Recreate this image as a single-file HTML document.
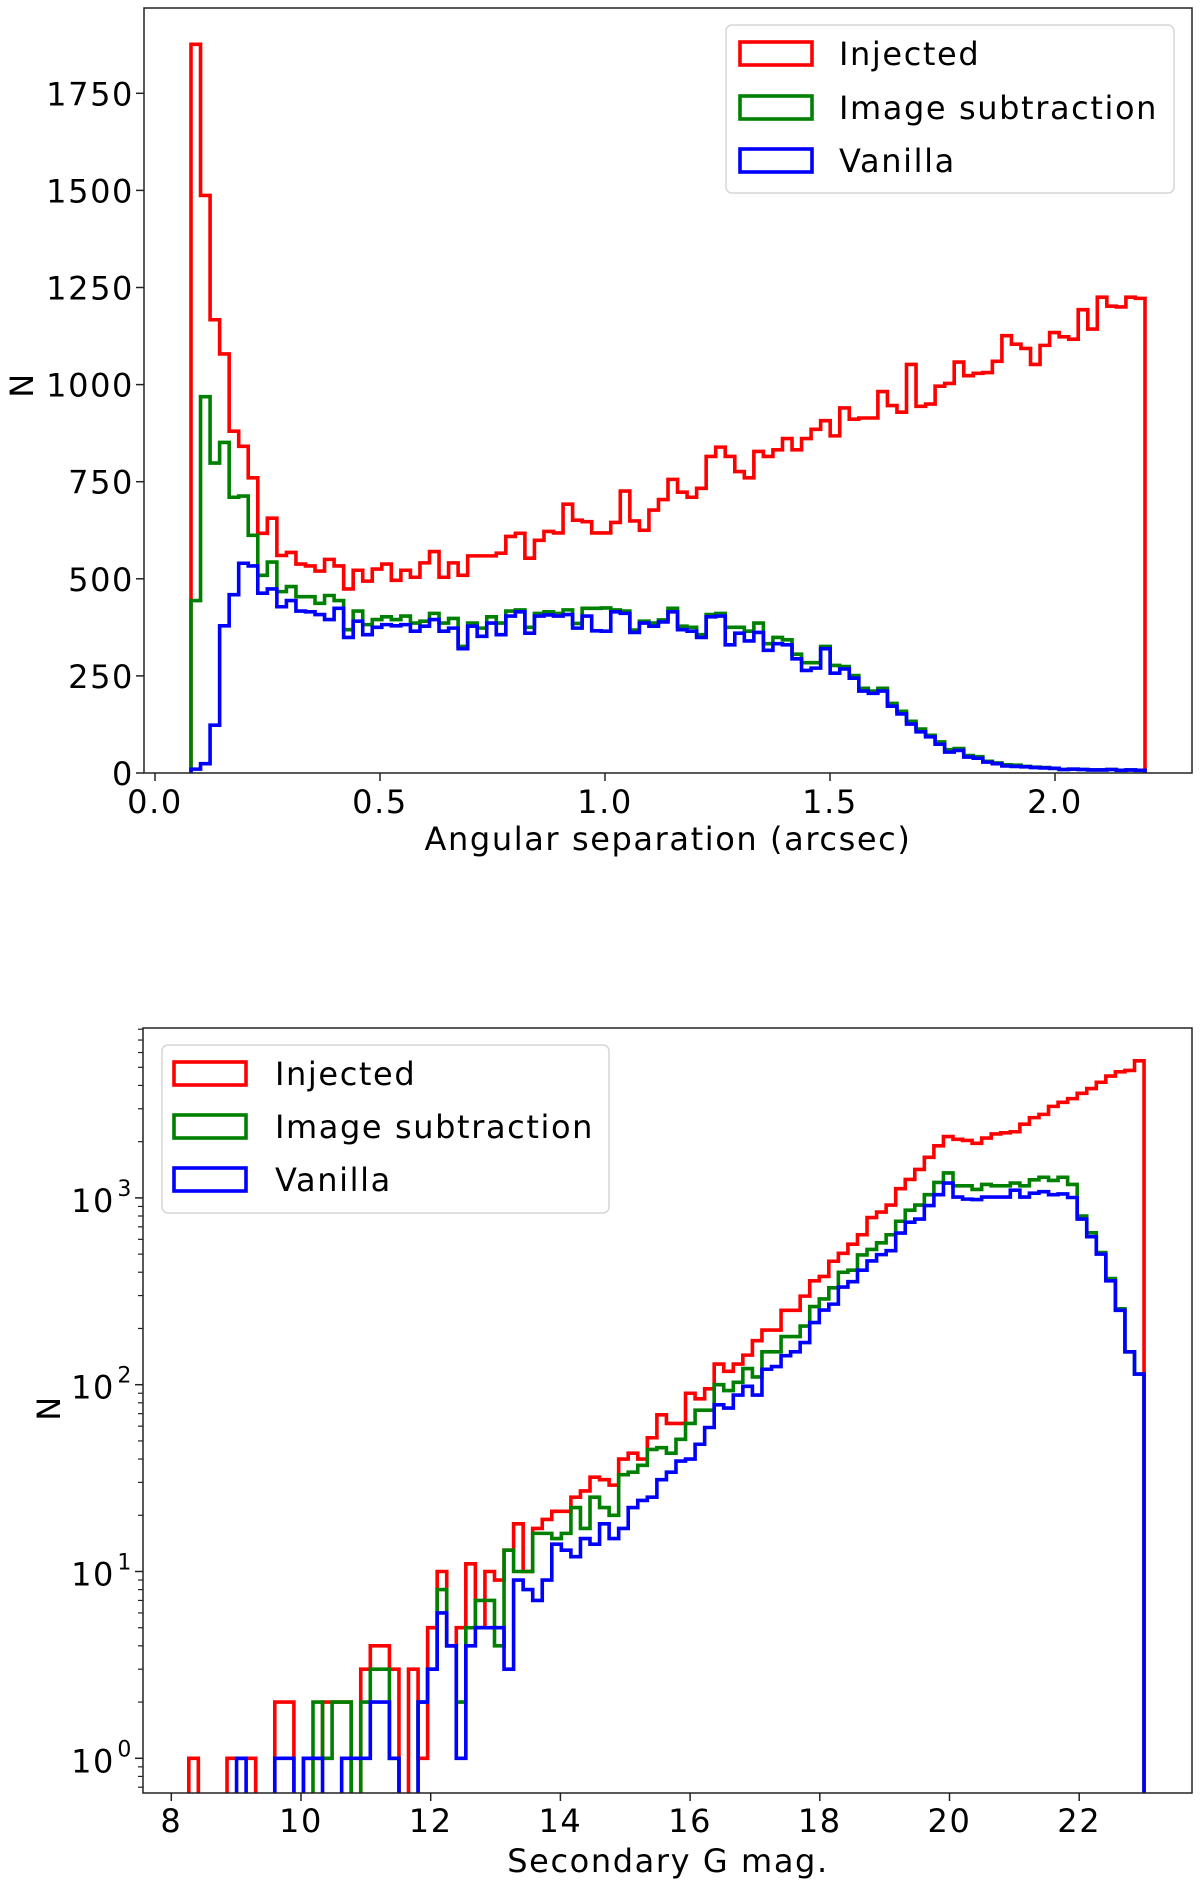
<!DOCTYPE html>
<html><head><meta charset="utf-8">
<style>
html,body{margin:0;padding:0;background:#fff;}
svg{display:block;font-family:"DejaVu Sans","Liberation Sans",sans-serif;}
svg text{letter-spacing:1.6px;}
</style></head>
<body>
<svg id="fig" width="1200" height="1885" viewBox="0 0 1200 1885" xmlns="http://www.w3.org/2000/svg">
<defs>
<clipPath id="clipTop"><rect x="144" y="8" width="1048" height="765"/></clipPath>
<clipPath id="clipBot"><rect x="143" y="1028" width="1049" height="765"/></clipPath>
</defs>
<g id="topChart"></g>
<g id="botChart"></g>
</svg>
<script>
// ---------- Top chart data (angular separation) ----------
const sepRange = [0.08, 2.2];
const sepInjected = [1876,1487,1167,1079,880,841,760,617,656,560,568,538,533,520,550,533,474,522,494,525,538,496,522,504,541,570,504,541,509,559,559,559,566,609,617,553,599,622,618,692,651,647,618,
618,645,726,649,625,677,704,756,723,710,733,815,839,815,776,760,828,815,832,861,832,861,885,907,868,940,911,914,914,982,946,929,1052,944,950,996,1003,1058,1023,1029,1031,1060,1126,1104,1093,1052,1101,1134,1123,1117,1193,1143,1225,1202,1200,1225,1222];
const sepImageSub = [444,969,798,851,710,713,612,509,543,467,480,454,454,437,457,444,369,417,382,395,402,395,404,386,391,411,386,398,326,386,373,402,386,417,420,375,411,415,411,420,385,424,424,
425,420,417,368,391,386,394,424,378,375,356,408,411,375,375,365,386,333,349,343,306,284,284,326,277,274,251,218,211,218,179,159,133,113,97,80,60,63,45,42,30,26,21,20,17,15,14,12,9,10,9,8,8,9,7,8,7];
const sepVanilla = [10,24,123,379,459,540,533,463,474,428,444,417,415,408,395,424,349,391,356,375,382,379,382,365,378,395,365,373,320,378,352,386,356,404,415,360,404,407,404,408,373,404,366,
365,415,411,362,386,378,389,415,369,365,349,402,404,330,360,340,362,316,333,330,294,264,270,320,257,268,244,211,205,211,172,152,126,106,93,74,54,58,41,38,28,24,18,17,16,14,13,12,9,10,9,8,8,9,7,8,7];
const sepYTicks = [0,250,500,750,1000,1250,1500,1750];
const sepXTicks = ["0.0","0.5","1.0","1.5","2.0"];

// ---------- Bottom chart data (secondary G mag) ----------
const magRange = [8.27, 23.0];
const magInjected = [1,0,0,0,1,1,1,0,0,2,2,0,1,1,2,2,2,0,3,4,4,3,0,3,1,5,10,4,5,11,5,10,9,13,18,10,17,19,21,21,25,27,32,31,29,40,43,40,52,
69,62,62,90,84,95,129,118,129,144,172,196,196,250,250,298,360,380,458,505,565,635,785,840,915,1120,1255,1420,1650,1900,2130,2060,2030,1960,2090,2200,2230,2260,2480,2690,2800,3090,3250,3400,3630,3850,4160,4490,4730,4810,5420];
const magImageSub = [0,0,0,0,0,0,0,0,0,0,0,0,0,2,1,2,2,0,2,3,3,1,0,0,2,3,8,4,2,5,7,7,4,13,10,10,16,16,15,16,22,17,25,22,20,33,34,37,45,
46,43,51,62,73,73,100,93,103,122,110,150,150,181,181,206,262,288,330,400,410,495,530,575,635,750,860,915,1040,1210,1360,1160,1160,1110,1180,1160,1160,1200,1160,1250,1290,1240,1290,1180,800,650,510,370,255,150,114];
const magVanilla = [0,0,0,0,0,1,0,0,0,1,1,0,1,1,0,0,1,1,1,2,2,1,0,0,2,3,6,4,1,4,5,5,5,3,9,8,7,9,14,13,12,15,14,18,15,17,22,24,25,
31,34,39,40,48,59,78,75,88,98,88,121,125,143,150,168,215,251,270,333,356,410,460,497,522,648,741,770,910,1040,1200,1010,985,980,1010,1010,1010,1100,1010,1060,1080,1040,1050,1005,770,620,500,360,250,150,114];
const magXTicks = [8,10,12,14,16,18,20,22];
const magYDecades = [0,1,2,3];

const legendLabels = ["Injected","Image subtraction","Vanilla"];
const seriesColors = ["#ff0000","#008000","#0000ff"];

const NS = "http://www.w3.org/2000/svg";
function mk(tag, attrs, parent){
  const e = document.createElementNS(NS, tag);
  for (const k in attrs) e.setAttribute(k, attrs[k]);
  parent.appendChild(e);
  return e;
}

const TA = {l:144, r:1192, t:8, b:773};
function sx(v){ return 155 + 450*v; }
function sy(v){ return 773 - v*(97.1/250); }
const BA = {l:143, r:1192, t:1028, b:1793};
function mx(v){ return 171.3 + 64.85*(v-8); }
function my(v){ return v<=0 ? 1900 : 1758.3 - 186.8*Math.log10(v); }

function stepPath(vals, range, xf, yf, baseY){
  const n = vals.length, w = (range[1]-range[0])/n;
  let d = "M" + xf(range[0]).toFixed(2) + "," + baseY;
  for (let i=0;i<n;i++){
    const y = yf(vals[i]).toFixed(2);
    d += " L" + xf(range[0]+i*w).toFixed(2) + "," + y + " L" + xf(range[0]+(i+1)*w).toFixed(2) + "," + y;
  }
  d += " L" + xf(range[1]).toFixed(2) + "," + baseY;
  return d;
}

function drawLegend(parent, bx, by, bw, bh, hx, tx, rowY){
  const g = mk("g", {}, parent);
  
  
  mk("rect", {x:bx, y:by, width:bw, height:bh, rx:6, fill:"#fff", "fill-opacity":0.85, stroke:"#d6d6d6", "stroke-width":1.5}, g);
  for (let i=0;i<3;i++){
    const e = mk("g", {}, g);
    
    
    mk("rect", {x:hx, y:rowY[i]-11, width:72, height:23, fill:"none", stroke:seriesColors[i], "stroke-width":3.6}, e);
    const t = mk("text", {x:tx, y:rowY[i]+12, "font-size":32, fill:"#000"}, e);
    t.textContent = legendLabels[i];
  }
}

// ================= TOP =================
const topG = document.getElementById("topChart");
const topSeries = [sepInjected, sepImageSub, sepVanilla];
const gT = mk("g", {"clip-path":"url(#clipTop)"}, topG);
for (let s=0;s<3;s++){
  const p = mk("path", {d: stepPath(topSeries[s], sepRange, sx, sy, sy(0)), fill:"none", stroke:seriesColors[s], "stroke-width":3.6}, gT);
  
  
}
const frT = mk("rect", {x:TA.l, y:TA.t, width:TA.r-TA.l, height:TA.b-TA.t, fill:"none", stroke:"#222", "stroke-width":1.5}, topG);


sepYTicks.forEach(v=>{
  const y = sy(v);
  mk("line", {x1:TA.l-8, x2:TA.l, y1:y, y2:y, stroke:"#222", "stroke-width":1.5}, topG);
  const t = mk("text", {x:TA.l-10, y:y+12, "text-anchor":"end", "font-size":32, fill:"#000"}, topG);
  t.textContent = v;
  
  
});
sepXTicks.forEach(lbl=>{
  const x = sx(parseFloat(lbl));
  mk("line", {x1:x, x2:x, y1:TA.b, y2:TA.b+8, stroke:"#222", "stroke-width":1.5}, topG);
  const t = mk("text", {x:x, y:TA.b+40, "text-anchor":"middle", "font-size":32, fill:"#000"}, topG);
  t.textContent = lbl;
  
  
});
let xl = mk("text", {x:668, y:850, "text-anchor":"middle", "font-size":32, fill:"#000"}, topG);
xl.textContent = "Angular separation (arcsec)";


let yl = mk("text", {x:33, y:385, "text-anchor":"middle", "font-size":32, fill:"#000", transform:"rotate(-90 33 385)"}, topG);
yl.textContent = "N";


drawLegend(topG, 726, 25, 448, 168, 740, 839, [53,107,160]);

// ================= BOTTOM =================
const botG = document.getElementById("botChart");
const botSeries = [magInjected, magImageSub, magVanilla];
const gB = mk("g", {"clip-path":"url(#clipBot)"}, botG);
for (let s=0;s<3;s++){
  const p = mk("path", {d: stepPath(botSeries[s], magRange, mx, my, 1900), fill:"none", stroke:seriesColors[s], "stroke-width":3.6}, gB);
  
  
}
const frB = mk("rect", {x:BA.l, y:BA.t, width:BA.r-BA.l, height:BA.b-BA.t, fill:"none", stroke:"#222", "stroke-width":1.5}, botG);


for (let d=-1; d<=3; d++){
  for (let k=2;k<=9;k++){
    const y = my(k*Math.pow(10,d));
    if (y>BA.t && y<BA.b) mk("line", {x1:BA.l-5, x2:BA.l, y1:y, y2:y, stroke:"#222", "stroke-width":1.2}, botG);
  }
}
magYDecades.forEach(p=>{
  const y = my(Math.pow(10,p));
  mk("line", {x1:BA.l-8, x2:BA.l, y1:y, y2:y, stroke:"#222", "stroke-width":1.5}, botG);
  const t = mk("text", {x:BA.l-28, y:y+14, "text-anchor":"end", "font-size":32, fill:"#000"}, botG);
  t.textContent = "10";
  
  
  const s = mk("text", {x:BA.l-10, y:y-2, "text-anchor":"end", "font-size":22, fill:"#000"}, botG);
  s.textContent = p;
});
magXTicks.forEach(v=>{
  const x = mx(v);
  mk("line", {x1:x, x2:x, y1:BA.b, y2:BA.b+8, stroke:"#222", "stroke-width":1.5}, botG);
  const t = mk("text", {x:x, y:BA.b+39, "text-anchor":"middle", "font-size":32, fill:"#000"}, botG);
  t.textContent = v;
  
  
});
xl = mk("text", {x:668, y:1872, "text-anchor":"middle", "font-size":32, fill:"#000"}, botG);
xl.textContent = "Secondary G mag.";


yl = mk("text", {x:60, y:1408, "text-anchor":"middle", "font-size":32, fill:"#000", transform:"rotate(-90 60 1408)"}, botG);
yl.textContent = "N";


drawLegend(botG, 162, 1045, 447, 168, 174, 275, [1073,1126,1179]);
</script>
</body></html>
